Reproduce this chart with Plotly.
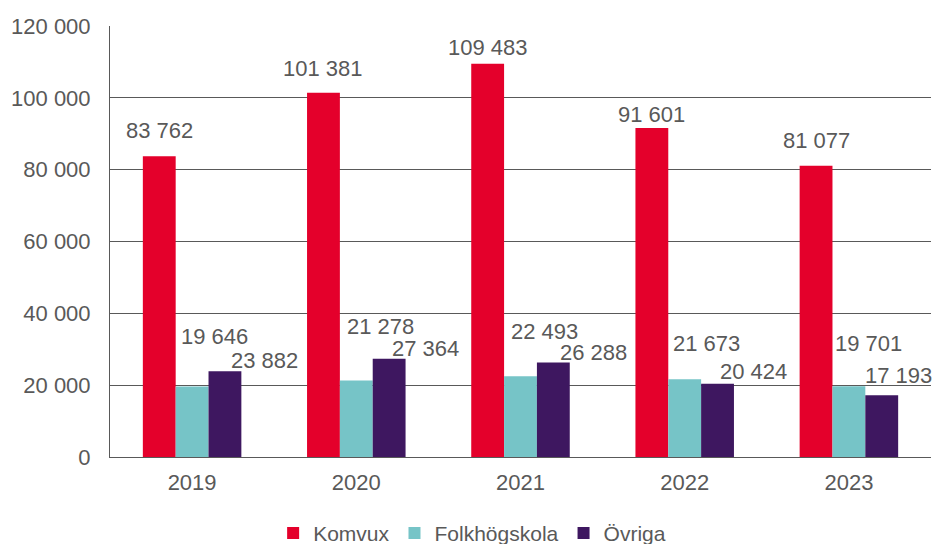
import plotly.graph_objects as go

years = ["2019", "2020", "2021", "2022", "2023"]
series_names = ["Komvux", "Folkhögskola", "Övriga"]
komvux = [83762, 101381, 109483, 91601, 81077]
folkhogskola = [19646, 21278, 22493, 21673, 19701]
ovriga = [23882, 27364, 26288, 20424, 17193]
y_ticks = [0, 20000, 40000, 60000, 80000, 100000, 120000]

colors = ["#E4002B", "#76C4C7", "#3E1760"]
# label pixel offsets (style): dx from bar centre, dy above bar top
label_dx = [[0, 0, 0, 0, 0], [22, 24, 24, 22, 20], [40, 36, 40, 36, 17]]
label_dy = [[26, 24, 16, 14, 25], [50, 54, 45, 36, 43], [11, 10, 10, 12, 20]]

values = [komvux, folkhogskola, ovriga]


def fmt(v):
    return f"{v:,}".replace(",", " ")


fig = go.Figure()
for name, vals, col in zip(series_names, values, colors):
    fig.add_trace(go.Bar(x=years, y=vals, name=name, marker=dict(color=col, line=dict(width=0))))

# page has an 8px body margin, so the figure is drawn 8px smaller
W, H = 932, 536
ml, mr, mt, mb = 102, 9, 18, 87
plot_w = W - ml - mr
cat_w = plot_w / len(years)
bargap = 0.4
bar_w = cat_w * (1 - bargap) / 3

font = "Liberation Sans, Arial, sans-serif"
txt = "#595959"
ann = []
for s, vals in enumerate(values):
    for i, v in enumerate(vals):
        ann.append(dict(
            x=i, y=v, xref="x", yref="y", text=fmt(v), showarrow=False,
            xshift=(s - 1) * bar_w + label_dx[s][i], yshift=label_dy[s][i],
            yanchor="middle", xanchor="center",
            font=dict(family=font, size=22, color=txt),
        ))

fig.update_layout(
    width=W, height=H,
    margin=dict(l=ml, r=mr, t=mt, b=mb, autoexpand=False),
    paper_bgcolor="white", plot_bgcolor="white",
    barmode="group", bargap=bargap, bargroupgap=0,
    separators=", ",
    font=dict(family=font, size=22, color=txt),
    annotations=ann,
    showlegend=True,
    legend=dict(orientation="h", xref="container", yref="container",
                x=0.498, xanchor="center", y=0.02, yanchor="middle",
                font=dict(family=font, size=21, color=txt),
                itemwidth=30, traceorder="normal"),
    xaxis=dict(type="category", range=[-0.5, len(years) - 0.5], autorange=False,
               showgrid=False, showline=True, linecolor="#595959", linewidth=1,
               ticks="", ticklabelstandoff=6, tickfont=dict(size=22, color=txt)),
    yaxis=dict(range=[0, 120000], autorange=False, tickvals=y_ticks, tickformat=",d",
               showgrid=True, gridcolor="#595959", gridwidth=1,
               showline=True, linecolor="#595959", linewidth=1,
               zeroline=False, ticks="", ticklabelstandoff=14,
               tickfont=dict(size=22, color=txt)),
)

fig.write_html("out.html")
